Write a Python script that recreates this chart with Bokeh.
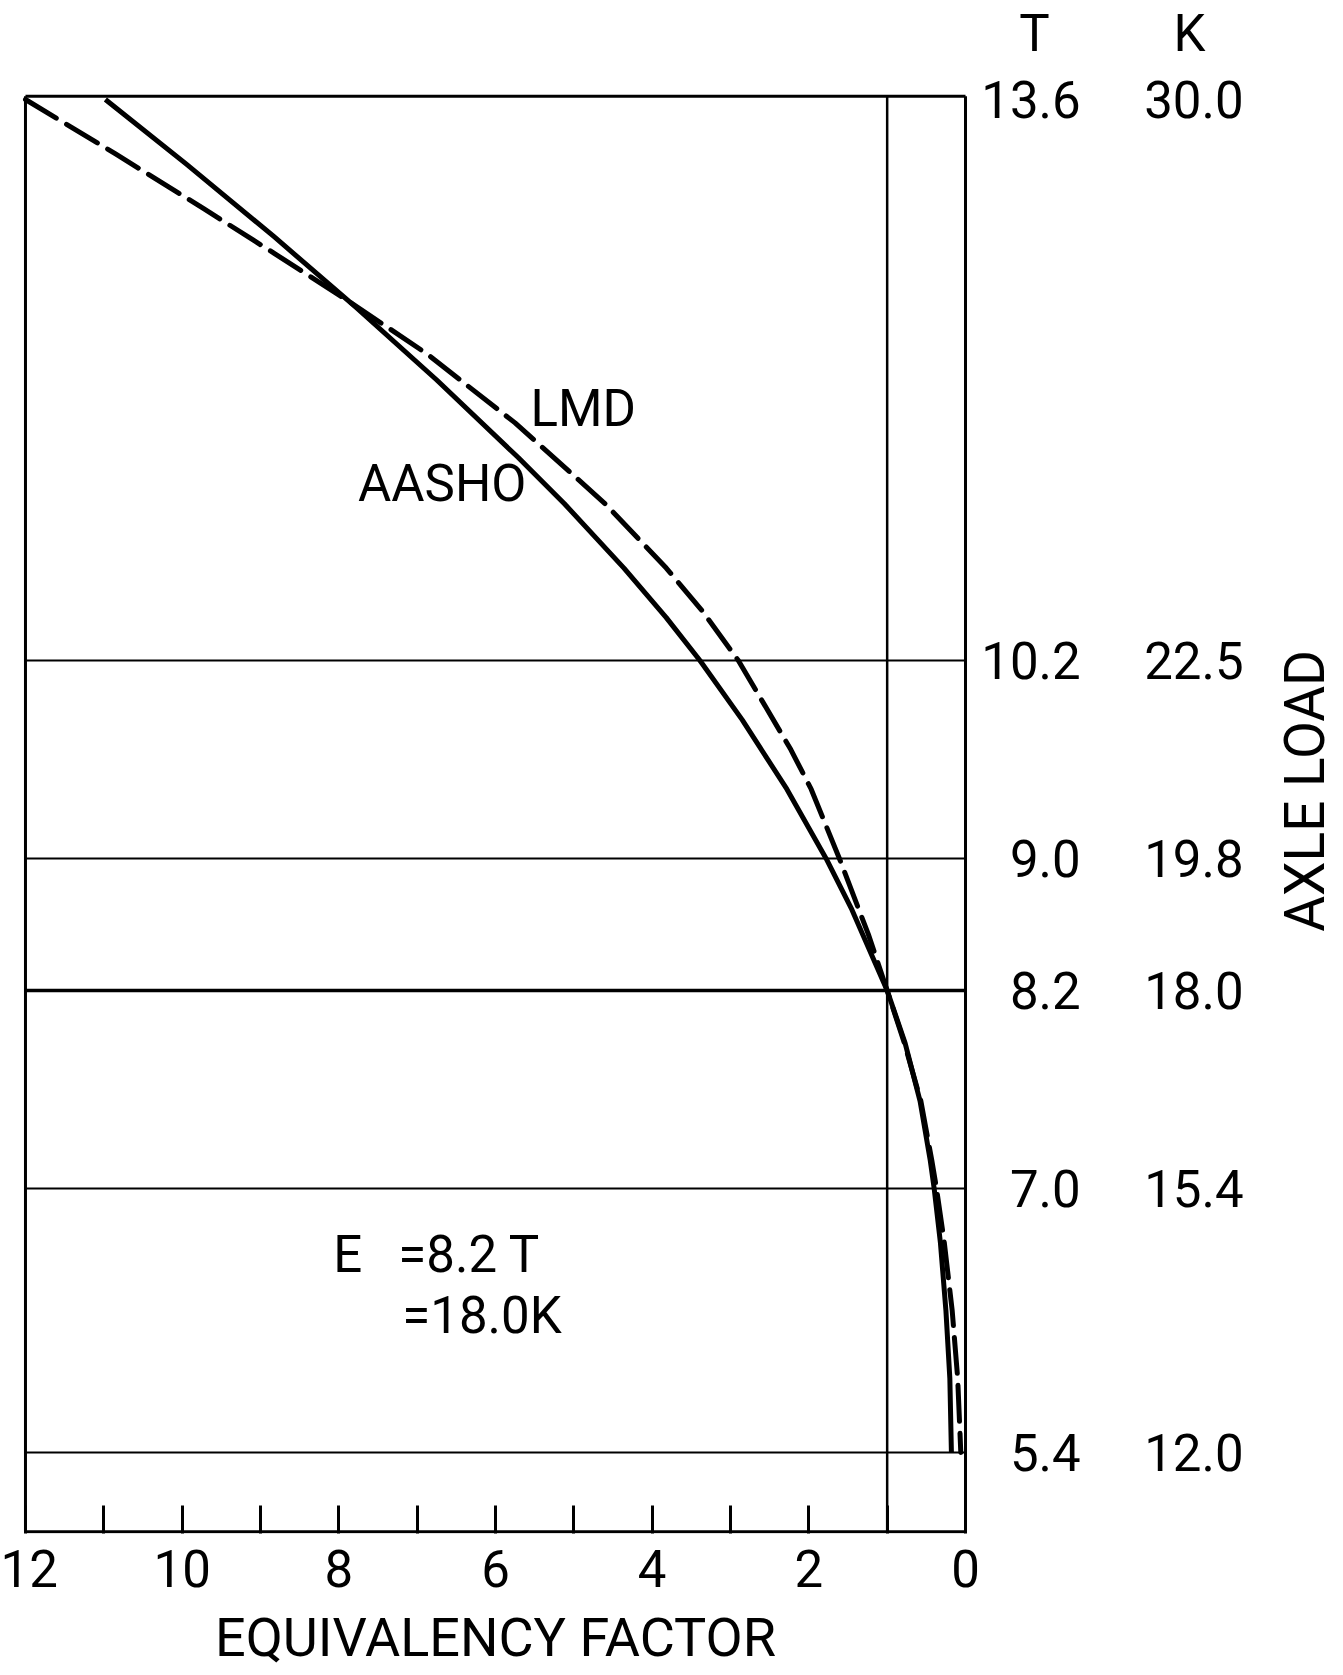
from bokeh.plotting import figure
from bokeh.models import Range1d, FixedTicker, Label, LabelSet, ColumnDataSource, LinearAxis
from bokeh.core.properties import value
from bokeh.embed import file_html
from bokeh.resources import INLINE

# ---- data (E = equivalency factor, T = axle load in tonnes)
aasho_E = [10.98, 9.95, 8.83, 7.78, 6.75, 5.71, 5.12, 4.36, 3.82, 3.39, 2.85, 2.28,
           1.78, 1.45, 1.00, 0.77, 0.58, 0.45, 0.40, 0.32, 0.25, 0.20, 0.18]
aasho_T = [13.60, 13.21, 12.77, 12.34, 11.90, 11.43, 11.15, 10.76, 10.46, 10.20, 9.84, 9.42,
           9.00, 8.69, 8.20, 7.88, 7.53, 7.17, 7.00, 6.67, 6.26, 5.85, 5.40]

lmd_E = [12.00, 10.85, 9.73, 8.80, 7.82, 6.88, 5.75, 4.60, 3.82, 3.36, 2.90, 2.23,
         1.97, 1.61, 1.24, 1.00, 0.78, 0.57, 0.43, 0.37, 0.27, 0.17, 0.10, 0.06]
lmd_T = [13.60, 13.27, 12.94, 12.66, 12.36, 12.06, 11.64, 11.15, 10.76, 10.50, 10.20, 9.66,
         9.42, 9.00, 8.54, 8.20, 7.88, 7.53, 7.17, 7.00, 6.67, 6.26, 5.85, 5.40]

load_T = [13.6, 10.2, 9.0, 8.2, 7.0, 5.4]
load_T_labels = ["13.6", "10.2", "9.0", "8.2", "7.0", "5.4"]
load_K_labels = ["30.0", "22.5", "19.8", "18.0", "15.4", "12.0"]
grid_T = [10.2, 9.0, 7.0, 5.4]
standard_T = 8.2
standard_E = 1.0
x_ticks = list(range(0, 13))
x_tick_labels = {t: (str(t) if t % 2 == 0 else "") for t in x_ticks}
x_title = "EQUIVALENCY FACTOR"
y_title = "AXLE LOAD"

FONT = "Roboto"
FS = "51px"

# chart box (data limits of the drawn rectangle)
E_MAX, E_MIN = 12.0, 0.0
Y0, Y1 = 4.92, 13.62

W, H = 1340, 1673
p = figure(width=W, height=H, output_backend="svg", toolbar_location=None,
           x_range=Range1d(12.038, -4.787), y_range=Range1d(4.909, 14.2),
           y_axis_location=None,
           min_border_left=22, min_border_right=0, min_border_top=0, min_border_bottom=H - 1533)
p.grid.visible = False
p.outline_line_color = None
p.background_fill_color = "white"
p.border_fill_color = "white"

ax = p.xaxis[0]
ax.ticker = FixedTicker(ticks=x_ticks)
ax.major_label_overrides = x_tick_labels
ax.major_tick_in = 28
ax.major_tick_out = 0
ax.minor_tick_line_color = None
ax.major_tick_line_width = 3
ax.major_tick_line_color = "black"
ax.axis_line_color = None
ax.major_label_text_font = FONT
ax.major_label_text_font_size = FS
ax.major_label_text_color = "black"
ax.major_label_standoff = 16

# second axis below, carrying the x title centred on the chart box
ax2 = LinearAxis(ticker=FixedTicker(ticks=[(E_MAX + E_MIN) / 2]),
                 major_label_overrides={(E_MAX + E_MIN) / 2: x_title},
                 major_tick_line_color=None, minor_tick_line_color=None,
                 axis_line_color=None, major_label_standoff=10,
                 major_label_text_font=FONT, major_label_text_font_size="54px",
                 major_label_text_color="black")
p.add_layout(ax2, "below")

# chart box
p.segment(x0=[E_MAX, E_MAX, E_MIN, E_MAX], y0=[Y1, Y0, Y0, Y0],
          x1=[E_MIN, E_MIN, E_MIN, E_MAX], y1=[Y1, Y0, Y1, Y1],
          line_color="black", line_width=3)

# grid lines
n = len(grid_T)
p.segment(x0=[E_MAX] * n, y0=grid_T, x1=[E_MIN] * n, y1=grid_T, line_color="black", line_width=2)
p.segment(x0=[E_MAX], y0=[standard_T], x1=[E_MIN], y1=[standard_T], line_color="black", line_width=3.5)
p.segment(x0=[standard_E], y0=[Y0], x1=[standard_E], y1=[Y1], line_color="black", line_width=2.5)

# curves
p.line(aasho_E, aasho_T, line_color="black", line_width=5, line_join="round")
p.line(lmd_E, lmd_T, line_color="black", line_width=5, line_dash="36 12",
       line_cap="round", line_join="round")

# right-side scales
src = ColumnDataSource(dict(y=load_T, t=load_T_labels, k=load_K_labels))
set_common = dict(text_font=value(FONT), text_font_size=value(FS), text_color="black",
                  text_baseline="middle", text_align="right")
p.add_layout(LabelSet(x=-1.47, y="y", text="t", source=src, **set_common))
p.add_layout(LabelSet(x=-3.55, y="y", text="k", source=src, **set_common))

common = dict(text_font=FONT, text_font_size=FS, text_color="black", text_baseline="middle")
p.add_layout(Label(x=-0.88, y=14.0, text="T", text_align="center", **common))
p.add_layout(Label(x=-2.86, y=14.0, text="K", text_align="center", **common))
p.add_layout(Label(x=-4.34, y=9.41, text=y_title, angle=1.5708, text_align="center",
                   text_font=FONT, text_font_size="55px", text_color="black",
                   text_baseline="middle"))

# in-plot annotations
p.add_layout(Label(x=4.88, y=11.73, text="LMD", text_align="center", **common))
p.add_layout(Label(x=6.68, y=11.27, text="AASHO", text_align="center", **common))
p.add_layout(Label(x=8.07, y=6.60, text="E", text_align="left", **common))
p.add_layout(Label(x=7.24, y=6.60, text="=8.2 T", text_align="left", **common))
p.add_layout(Label(x=7.19, y=6.23, text="=18.0K", text_align="left", **common))

open("out.html", "w").write(file_html(p, INLINE))
